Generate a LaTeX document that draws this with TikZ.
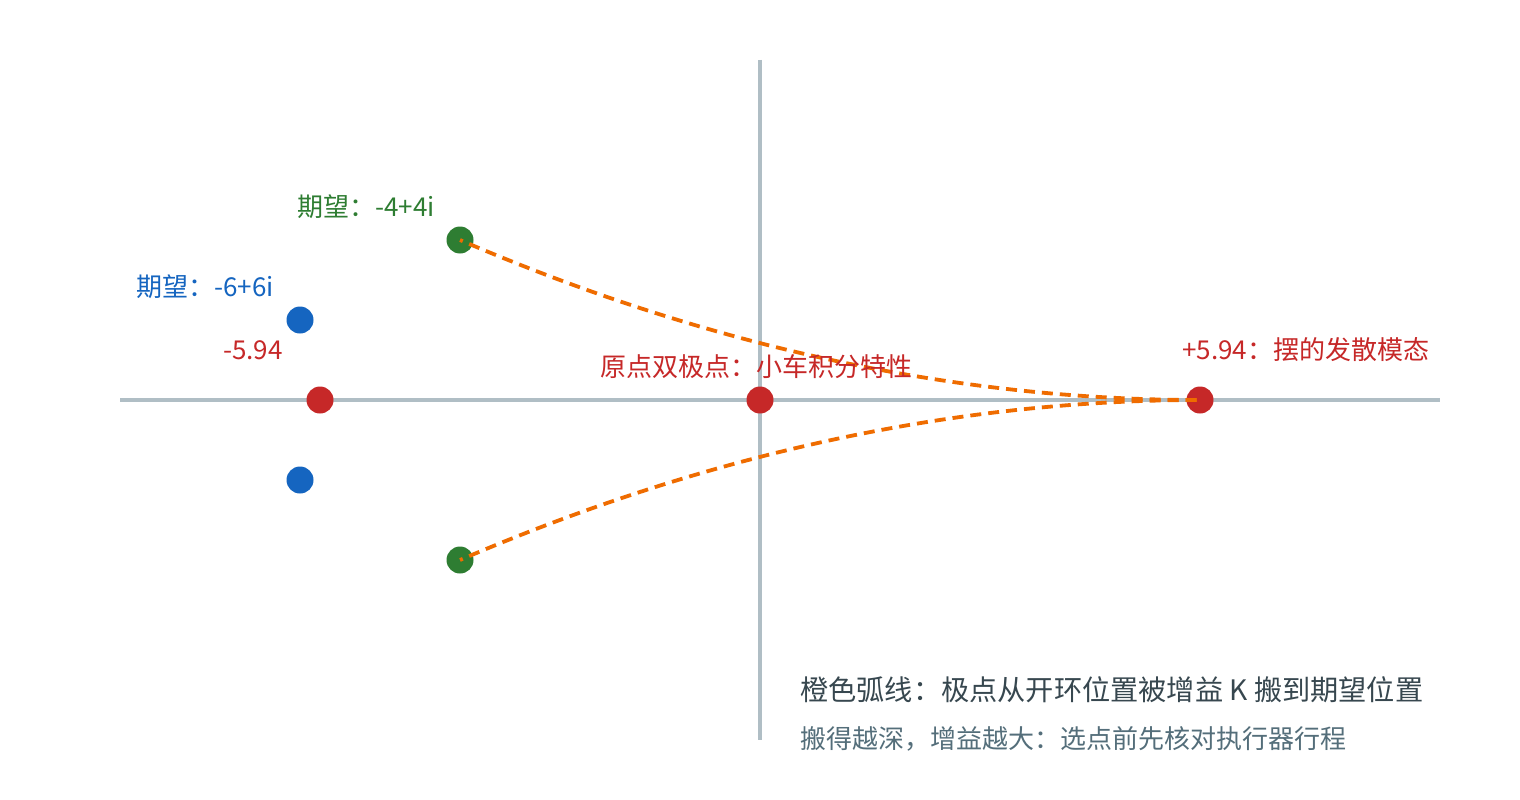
\documentclass[tikz,border=0pt]{standalone}
\usepackage{fontspec}
\setmainfont{Noto Sans CJK SC}
\definecolor{axisgray}{HTML}{B0BEC5}
\definecolor{polered}{HTML}{C62828}
\definecolor{poleblue}{HTML}{1565C0}
\definecolor{polegreen}{HTML}{2E7D32}
\definecolor{arcorange}{HTML}{EF6C00}
\definecolor{textdark}{HTML}{37474F}
\definecolor{textmid}{HTML}{546E7A}
\tikzset{
  axisline/.style={draw=axisgray, line width=3.6pt},
  pole/.style={circle, inner sep=0pt, minimum size=27pt, fill=#1},
  arcpath/.style={draw=arcorange, line width=3.8pt, dash pattern=on 11pt off 7pt, dash phase=8pt},
  lbl/.style={inner sep=0pt, font=\fontsize{26}{30}\selectfont, text=#1},
}
\begin{document}
\begin{tikzpicture}[x=1pt,y=-1pt]
\useasboundingbox[fill=white] (0,0) rectangle (1520,800);
% axes
\coordinate (xl) at (120,400);
\coordinate (xr) at (1440,400);
\coordinate (yt) at (760,60);
\coordinate (yb) at (760,740);
\draw[axisline] (xl) -- (xr);
\draw[axisline] (yt) -- (yb);
% poles
\node[pole=polered] (r1) at (320,400) {};
\node[pole=polered] (r2) at (760,400) {};
\node[pole=polered] (r3) at (1200,400) {};
\node[pole=poleblue] (b1) at (300,320) {};
\node[pole=poleblue] (b2) at (300,480) {};
\node[pole=polegreen] (g1) at (460,240) {};
\node[pole=polegreen] (g2) at (460,560) {};
% arcs
\coordinate (c1u) at (708.7,346.7);
\coordinate (c1d) at (708.7,453.3);
\coordinate (c2) at (955.3,400);
\draw[arcpath] (g1.center) .. controls (c1u) and (c2) .. (r3.center);
\draw[arcpath] (g2.center) .. controls (c1d) and (c2) .. (r3.center);
% labels
\node[lbl=polegreen, anchor=east] (lg) at (435,207) {期望：-4+4i};
\node[lbl=poleblue, anchor=east] (lb) at (274,287) {期望：-6+6i};
\node[lbl=polered, anchor=east] (lr1) at (283,350) {-5.94};
\node[lbl=polered] (lr2) at (756,367) {原点双极点：小车积分特性};
\node[lbl=polered, anchor=west] (lr3) at (1182,350) {+5.94：摆的发散模态};
\node[inner sep=0pt, anchor=west, text=textdark, font=\fontsize{28.2}{32}\selectfont] (n1) at (800,690) {橙色弧线：极点从开环位置被增益 K 搬到期望位置};
\node[inner sep=0pt, anchor=west, text=textmid, font=\fontsize{26}{30}\selectfont] (n2) at (800,739) {搬得越深，增益越大：选点前先核对执行器行程};
\end{tikzpicture}
\end{document}
